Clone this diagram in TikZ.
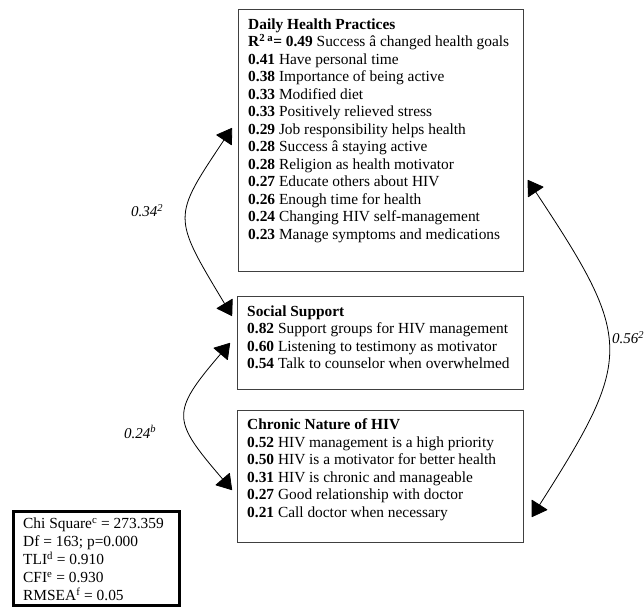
\documentclass[tikz,border=0pt]{standalone}
\usepackage{fontspec}
\setmainfont{Liberation Serif}
\usetikzlibrary{arrows.meta,calc}

\begin{document}
\begin{tikzpicture}[x=1pt,y=1pt,
    factor/.style={draw=black!75, line width=0.8pt, anchor=north west, inner sep=0pt},
    items/.style={anchor=north west, inner sep=0pt, align=left, font=\fontsize{15.4}{17.5}\selectfont},
    corr/.style={{Triangle[length=15pt,width=19pt,round]}-{Triangle[length=15pt,width=19pt,round]}, line width=0.8pt},
    coef/.style={font=\fontsize{15}{17}\selectfont\itshape}
]
    \useasboundingbox (0,0) rectangle (644,-606);

    % Factor boxes
    \node[factor, minimum width=285pt, minimum height=262pt] (dhp) at (238,-9) {};
    \node[factor, minimum width=286pt, minimum height=93pt] (ss) at (237,-296) {};
    \node[factor, minimum width=286pt, minimum height=132pt] (chr) at (237,-410) {};

    % Loadings inside each box
    \node[items] (dhptext) at ([shift={(10,-9.3)}]dhp.north west) {%
        \textbf{Daily Health Practices}\\
        \textbf{R\textsuperscript{2 a}= 0.49} Success â changed health goals\\
        \textbf{0.41} Have personal time\\
        \textbf{0.38} Importance of being active\\
        \textbf{0.33} Modified diet\\
        \textbf{0.33} Positively relieved stress\\
        \textbf{0.29} Job responsibility helps health\\
        \textbf{0.28} Success â staying active\\
        \textbf{0.28} Religion as health motivator\\
        \textbf{0.27} Educate others about HIV\\
        \textbf{0.26} Enough time for health\\
        \textbf{0.24} Changing HIV self-management\\
        \textbf{0.23} Manage symptoms and medications};
    \node[items] (sstext) at ([shift={(10,-9.3)}]ss.north west) {%
        \textbf{Social Support}\\
        \textbf{0.82} Support groups for HIV management\\
        \textbf{0.60} Listening to testimony as motivator\\
        \textbf{0.54} Talk to counselor when overwhelmed};
    \node[items] (chrtext) at ([shift={(10,-8.5)}]chr.north west) {%
        \textbf{Chronic Nature of HIV}\\
        \textbf{0.52} HIV management is a high priority\\
        \textbf{0.50} HIV is a motivator for better health\\
        \textbf{0.31} HIV is chronic and manageable\\
        \textbf{0.27} Good relationship with doctor\\
        \textbf{0.21} Call doctor when necessary};

    % Model fit
    \node[draw, line width=2.5pt, anchor=north west, inner sep=0pt,
          minimum width=166pt, minimum height=94pt] (fitbox) at (12,-510) {};
    \node[items, font=\fontsize{15.4}{18}\selectfont] (fittext) at ([shift={(11,-7.8)}]fitbox.north west) {%
        Chi Square\textsuperscript{c} = 273.359\\
        Df = 163; p=0.000\\
        TLI\textsuperscript{d} = 0.910\\
        CFI\textsuperscript{e} = 0.930\\
        RMSEA\textsuperscript{f} = 0.05};

    % Correlations between factors
    \draw[corr] ([shift={(-6,-119)}]dhp.north west) .. controls +(-60,-90) and +(-60,100) .. ([shift={(-5,-20)}]ss.north west);
    \draw[corr] ([shift={(-7,-47)}]ss.north west) .. controls +(-60,-70) and +(-60,70) .. ([shift={(-5,-80)}]chr.north west);
    \draw[corr] ([shift={(4,-171)}]dhp.north east) .. controls +(106,-160) and +(102,160) .. ([shift={(8,-107)}]chr.north east);

    \node[coef] (r12) at (147,-211) {0.34\textsuperscript{2}};
    \node[coef] (r23) at (140,-432) {0.24\textsuperscript{b}};
    \node[coef] (r13) at (628,-338) {0.56\textsuperscript{2}};
\end{tikzpicture}
\end{document}
